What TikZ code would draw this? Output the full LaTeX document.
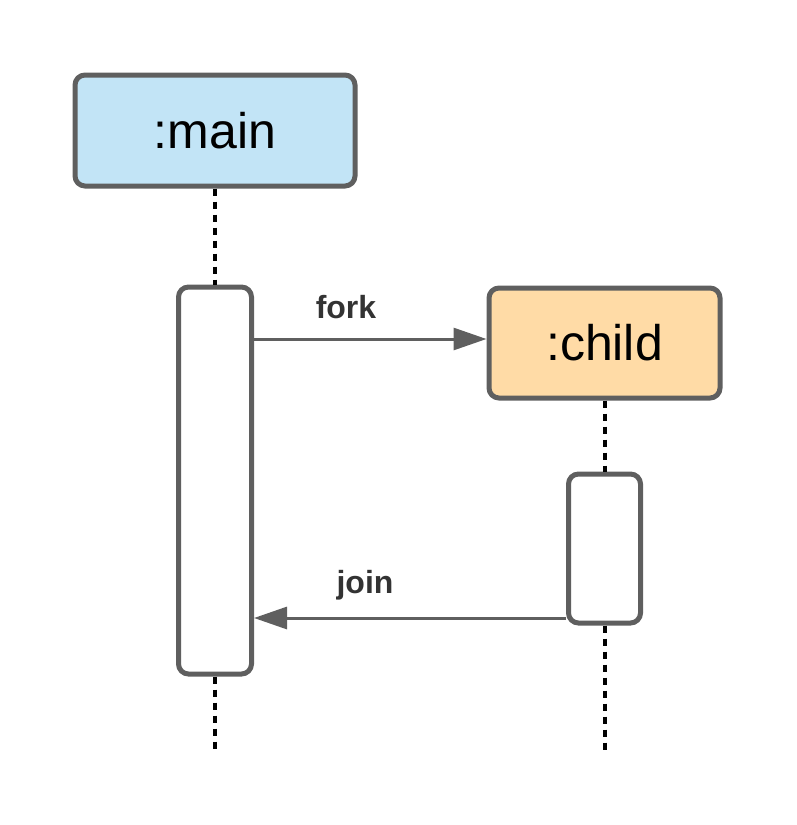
\documentclass[tikz,border=0pt]{standalone}
\usepackage{fontspec}
\setmainfont{Liberation Sans}
\usetikzlibrary{arrows.meta}
\definecolor{edgegray}{HTML}{5F5F5F}
\definecolor{textgray}{HTML}{333333}
\definecolor{mainblue}{HTML}{C2E4F6}
\definecolor{childorange}{HTML}{FFDBA6}
\begin{document}
\begin{tikzpicture}[x=1pt,y=-1pt,
    actor/.style={draw=edgegray, line width=5pt, rounded corners=10pt, inner sep=0pt,
                  font=\fontsize{50}{60}\selectfont},
    bar/.style={draw=edgegray, fill=white, line width=5pt, rounded corners=10pt, inner sep=0pt},
    life/.style={line width=4pt, dash pattern=on 7pt off 6pt},
    msg/.style={draw=edgegray, line width=3pt, -{Triangle[length=33pt,width=22pt]}},
    lbl/.style={text=textgray, font=\fontsize{32}{38}\selectfont\bfseries}]
\useasboundingbox (0,0) rectangle (797,825);

% objects
\node[actor, fill=mainblue, minimum width=280pt, minimum height=111pt] (main) at (215,130.5) {:main};
\node[actor, fill=childorange, minimum width=231pt, minimum height=110pt] (child) at (604.5,343) {:child};

% activations
\node[bar, minimum width=73pt, minimum height=387pt] (mainbar) at (215,480.5) {};
\node[bar, minimum width=72pt, minimum height=149pt] (childbar) at (604.5,548.5) {};

\coordinate (mainend) at (215,750);
\coordinate (childend) at (604.5,750);

% lifelines
\draw[life] (main.south) -- (mainbar.north);
\draw[life] (mainbar.south) -- (mainend);
\draw[life] (child.south) -- (childbar.north);
\draw[life] (childbar.south) -- (childend);

% messages
\draw[msg] (mainbar.east |- 0,339) -- (child.west |- 0,339);
\node[lbl] (forklbl) at (346,307) {fork};

\draw[msg] (childbar.west |- 0,618) -- (mainbar.east |- 0,618);
\node[lbl] (joinlbl) at (365,585) {join};
\end{tikzpicture}
\end{document}
